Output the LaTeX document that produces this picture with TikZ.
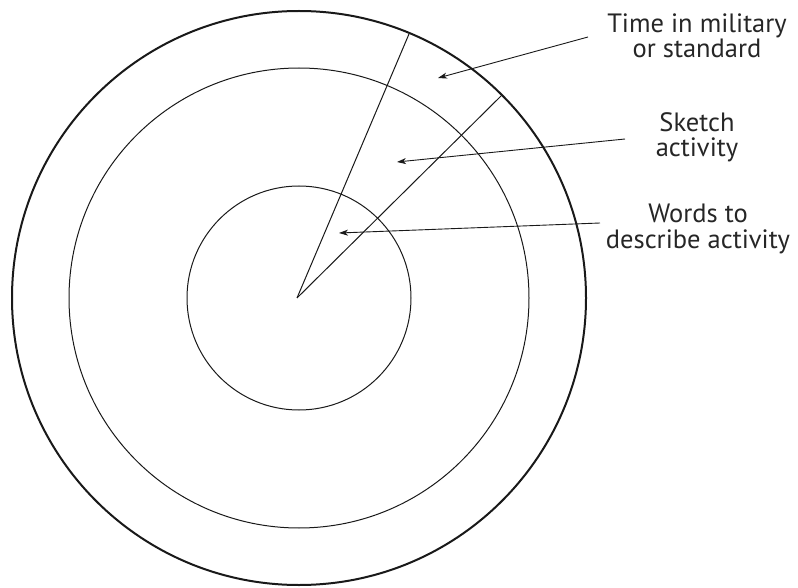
\documentclass[tikz,border=0pt]{standalone}
\usepackage{fontspec}
\setmainfont{PT Sans}
\usetikzlibrary{arrows.meta}
\begin{document}
\begin{tikzpicture}[x=1pt,y=-1pt,
  ring/.style={draw=black!90,line width=1pt},
  outerring/.style={draw=black!90,line width=2pt},
  radial/.style={draw=black!90,line width=1pt},
  pointer/.style={draw=black!90,line width=0.9pt,-{Stealth[length=9pt,width=6pt,inset=2.5pt]}},
  label/.style={font=\fontsize{26.5}{25}\selectfont,text=black!85,align=center,inner sep=0pt}]
\useasboundingbox (0,0) rectangle (798,588);
\coordinate (c) at (299,298);
\coordinate (ctr) at (297,298);
\draw[outerring] (c) circle[radius=287];
\draw[ring] (c) circle[radius=230];
\draw[ring] (c) circle[radius=112];
\coordinate (r1) at (409,34);
\coordinate (r2) at (501,96);
\draw[radial] (ctr) -- (r1);
\draw[radial] (ctr) -- (r2);
\node[label,anchor=base] (t1) at (697,58) {Time in military\\or standard};
\node[label,anchor=base] (t2) at (697,157) {Sketch\\activity};
\node[label,anchor=base] (t3) at (698,248) {Words to\\describe activity};
\coordinate (s1) at (588,37);
\coordinate (e1) at (438,78);
\coordinate (s2) at (625,139);
\coordinate (e2) at (397,162);
\coordinate (s3) at (600,223);
\coordinate (e3) at (339,233);
\draw[pointer] (s1) -- (e1);
\draw[pointer] (s2) -- (e2);
\draw[pointer] (s3) -- (e3);
\end{tikzpicture}
\end{document}
